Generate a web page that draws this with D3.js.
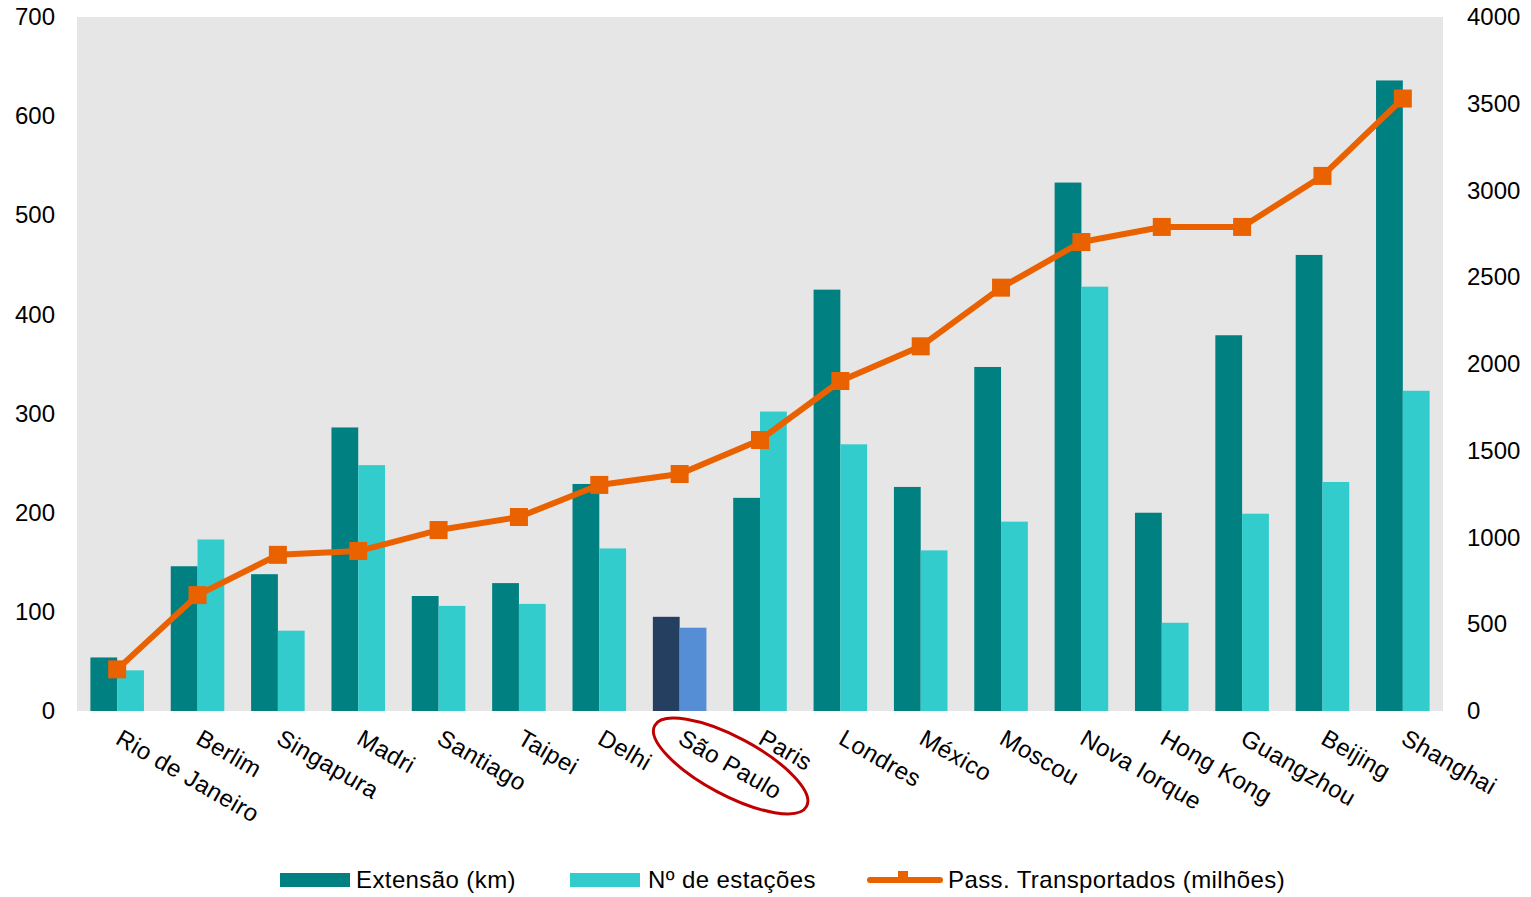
<!DOCTYPE html>
<html>
<head>
<meta charset="utf-8">
<script src="https://cdn.jsdelivr.net/npm/d3@7"></script>
<style>
  body { margin: 0; background: #fff; }
  svg { font-family: "Liberation Sans", Arial, sans-serif; }
</style>
</head>
<body>
<div id="chart"></div>
<script>
const cidades = ["Rio de Janeiro", "Berlim", "Singapura", "Madri", "Santiago", "Taipei", "Delhi",
  "São Paulo", "Paris", "Londres", "México", "Moscou", "Nova Iorque", "Hong Kong", "Guangzhou",
  "Beijing", "Shanghai"];
const extensao = [54, 146, 138, 286, 116, 129, 229, 95, 215, 425, 226, 347, 533, 200, 379, 460, 636];
const estacoes = [41, 173, 81, 248, 106, 108, 164, 84, 302, 269, 162, 191, 428, 89, 199, 231, 323];
const passageiros = [240, 668, 900, 922, 1043, 1118, 1303, 1366, 1562, 1902, 2102, 2440, 2703, 2790, 2790, 3084, 3530];
const ticksEsq = [0, 100, 200, 300, 400, 500, 600, 700];
const ticksDir = [0, 500, 1000, 1500, 2000, 2500, 3000, 3500, 4000];

const destaque = "São Paulo";
const corExt = "#008080", corEst = "#33CCCC", corLinha = "#EA6100";
const corExtSP = "#243F60", corEstSP = "#558ED5";

const width = 1531, height = 897;
const m = {top: 17, left: 77, right: 88, bottom: 186};

const svg = d3.select("#chart").append("svg")
  .attr("width", width).attr("height", height);

const x = d3.scaleBand().domain(cidades).range([m.left, width - m.right]);
const xs = d3.scaleBand().domain(["ext", "est"])
  .range([x.bandwidth() / 6, x.bandwidth() * 5 / 6]);
const yL = d3.scaleLinear().domain([0, 700]).range([height - m.bottom, m.top]);
const yR = d3.scaleLinear().domain([0, 4000]).range([height - m.bottom, m.top]);

// fundo
svg.append("rect")
  .attr("x", m.left).attr("y", m.top)
  .attr("width", width - m.left - m.right)
  .attr("height", height - m.top - m.bottom)
  .attr("fill", "#E6E6E6");

// barras
const g = svg.append("g").selectAll("g")
  .data(cidades)
  .join("g")
  .attr("transform", d => `translate(${x(d)},0)`);

g.append("rect")
  .attr("x", xs("ext")).attr("width", xs.bandwidth())
  .attr("y", (d, i) => yL(extensao[i]))
  .attr("height", (d, i) => yL(0) - yL(extensao[i]))
  .attr("fill", d => d == destaque ? corExtSP : corExt);

g.append("rect")
  .attr("x", xs("est")).attr("width", xs.bandwidth())
  .attr("y", (d, i) => yL(estacoes[i]))
  .attr("height", (d, i) => yL(0) - yL(estacoes[i]))
  .attr("fill", d => d == destaque ? corEstSP : corEst);

// linha
const cx = d => x(d) + x.bandwidth() / 2;
const linha = d3.line()
  .x((d, i) => cx(cidades[i]))
  .y(d => yR(d));

svg.append("path")
  .datum(passageiros)
  .attr("d", linha)
  .attr("fill", "none")
  .attr("stroke", corLinha)
  .attr("stroke-width", 6)
  .attr("stroke-linejoin", "round");

svg.append("g").selectAll("rect")
  .data(passageiros)
  .join("rect")
  .attr("x", (d, i) => cx(cidades[i]) - 9)
  .attr("y", d => yR(d) - 9)
  .attr("width", 18).attr("height", 18)
  .attr("fill", corLinha);

// eixos
const axL = svg.append("g")
  .attr("transform", `translate(${m.left},0)`)
  .call(d3.axisLeft(yL).tickValues(ticksEsq).tickSize(0).tickPadding(22));
axL.select(".domain").remove();

const axR = svg.append("g")
  .attr("transform", `translate(${width - m.right},0)`)
  .call(d3.axisRight(yR).tickValues(ticksDir).tickFormat(d3.format("d")).tickSize(0).tickPadding(24));
axR.select(".domain").remove();

svg.selectAll(".tick text")
  .attr("font-size", 24)
  .attr("font-family", "Liberation Sans, Arial, sans-serif")
  .attr("fill", "#000");

// rótulos das cidades
svg.append("g").selectAll("text")
  .data(cidades)
  .join("text")
  .attr("transform", d => `translate(${cx(d) - 3},${yL(0) + 32}) rotate(30)`)
  .attr("font-size", 24)
  .attr("letter-spacing", 0.4)
  .attr("fill", "#000")
  .text(d => d);

// elipse em São Paulo
svg.append("ellipse")
  .attr("transform", `translate(${cx(destaque) + 51},${yL(0) + 55}) rotate(28)`)
  .attr("rx", 86).attr("ry", 29)
  .attr("fill", "none")
  .attr("stroke", "#C00000")
  .attr("stroke-width", 3);

// legenda
const leg = svg.append("g").attr("font-size", 24).attr("letter-spacing", 0.4);
const ly = 880;
leg.append("rect").attr("x", 280).attr("y", ly - 7).attr("width", 70).attr("height", 14).attr("fill", corExt);
leg.append("text").attr("x", 356).attr("y", ly + 8).text("Extensão (km)");
leg.append("rect").attr("x", 570).attr("y", ly - 7).attr("width", 70).attr("height", 14).attr("fill", corEst);
leg.append("text").attr("x", 648).attr("y", ly + 8).text("Nº de estações");
leg.append("line").attr("x1", 870).attr("x2", 940).attr("y1", ly).attr("y2", ly)
  .attr("stroke", corLinha).attr("stroke-width", 6).attr("stroke-linecap", "round");
leg.append("rect").attr("x", 898).attr("y", ly - 9).attr("width", 10).attr("height", 10).attr("fill", corLinha);
leg.append("text").attr("x", 948).attr("y", ly + 8).text("Pass. Transportados (milhões)");
</script>
</body>
</html>
